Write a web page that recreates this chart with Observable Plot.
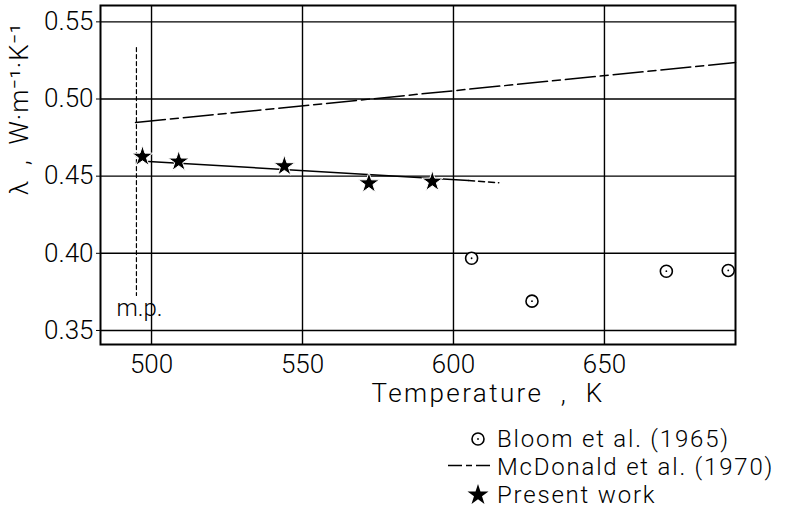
<!DOCTYPE html>
<html><head><meta charset="utf-8">
<script src="https://cdn.jsdelivr.net/npm/d3@7"></script>
<script src="https://cdn.jsdelivr.net/npm/@observablehq/plot@0.6"></script>
<style>
body{margin:0;background:#fff;font-family:Roboto,"DejaVu Sans",sans-serif;}
#legend{font-size:24px;font-weight:300;color:#000;padding-top:10px;letter-spacing:1.8px;}
.row{display:flex;align-items:center;height:28px;line-height:28px;margin-left:440px;}
.row span{line-height:28px;display:block;height:28px;}
.row svg{width:57px;height:28px;flex:none;overflow:visible}
</style></head><body>
<div id="chart"></div>
<div id="legend"></div>
<script>
// Present work (stars)
const presentT = [497, 509, 544, 572, 593];
const presentL = [0.4627, 0.4595, 0.4565, 0.4454, 0.4465];
// Present work fit line (solid part, dashed extension)
const fitT = [499, 605];
const fitL = [0.4595, 0.4472];
const fitExtT = [605, 615];
const fitExtL = [0.4472, 0.4457];
// Bloom et al. (1965)
const bloomT = [606, 626, 670.5, 691];
const bloomL = [0.3968, 0.369, 0.3884, 0.3889];
// McDonald et al. (1970)
const mcdT = [494.7, 693.4];
const mcdL = [0.4848, 0.5236];
// melting point marker
const mpT = [495, 495];
const mpL = [0.5333, 0.3727];
const mpLabelT = [496];
const mpLabelL = [0.3643];
const mpLabelText = ["m.p."];
// ticks
const xTicks = [500, 550, 600, 650];
const yTicks = [0.35, 0.40, 0.45, 0.50, 0.55];
const xLabel = "Temperature\u00a0\u00a0,\u00a0\u00a0K";
const yLabel = "λ\u00a0\u00a0,\u00a0\u00a0W·m⁻¹·K⁻¹";
const legendLabels = ["Bloom et al. (1965)", "McDonald et al. (1970)", "Present work"];

const font = "Roboto, 'DejaVu Sans', sans-serif";
const stars = presentT.map((t, i) => ({t, l: presentL[i]}));
const bloom = bloomT.map((t, i) => ({t, l: bloomL[i]}));
const fit = fitT.map((t, i) => ({t, l: fitL[i]}));
const fitExt = fitExtT.map((t, i) => ({t, l: fitExtL[i]}));
const mcd = mcdT.map((t, i) => ({t, l: mcdL[i]}));
const mp = mpT.map((t, i) => ({t, l: mpL[i]}));
const mpLab = mpLabelT.map((t, i) => ({t, l: mpLabelL[i], s: mpLabelText[i]}));

const chart = Plot.plot({
  width: 793, height: 415,
  marginLeft: 100, marginRight: 58, marginTop: 5, marginBottom: 71,
  style: {fontFamily: font, fontSize: "26px", fontWeight: 300, background: "#fff", color: "#000", overflow: "visible"},
  x: {domain: [483.1, 693.4]},
  y: {domain: [0.3409, 0.5606]},
  marks: [
    Plot.gridX(xTicks, {stroke: "#000", strokeOpacity: 1, strokeWidth: 1.4}),
    Plot.gridY(yTicks, {stroke: "#000", strokeOpacity: 1, strokeWidth: 1.4}),
    Plot.axisX(xTicks, {tickSize: 0, tickPadding: 10, label: null, fontSize: 26, tickFormat: d => String(d)}),
    Plot.axisY(yTicks, {tickSize: 4, tickPadding: 3, label: null, fontSize: 26, tickFormat: d3.format(".2f")}),
    Plot.frame({stroke: "#000", strokeWidth: 2}),
    Plot.line(mp, {x: "t", y: "l", stroke: "#000", strokeWidth: 1.2, strokeDasharray: "4,3"}),
    Plot.text(mpLab, {x: "t", y: "l", text: "s", fontSize: 24, fill: "#000"}),
    Plot.line(mcd, {x: "t", y: "l", stroke: "#000", strokeWidth: 1.5, strokeDasharray: "30,5,8,5"}),
    Plot.line(fit, {x: "t", y: "l", stroke: "#000", strokeWidth: 1.5}),
    Plot.line(fitExt, {x: "t", y: "l", stroke: "#000", strokeWidth: 1.5, strokeDasharray: "6,4"}),
    Plot.dot(bloom, {x: "t", y: "l", r: 6, stroke: "#000", strokeWidth: 1.6, fill: "#fff"}),
    Plot.dot(bloom, {x: "t", y: "l", r: 0.9, fill: "#000"}),
    Plot.dot(stars, {x: "t", y: "l", symbol: "star", r: 6.6, fill: "#000", stroke: "#fff", strokeWidth: 1}),
    Plot.text([xLabel], {frameAnchor: "bottom", lineAnchor: "middle", textAnchor: "middle", dx: 70, dy: 49, fontSize: 26, fill: "#000"}),
    Plot.text([yLabel], {frameAnchor: "left", lineAnchor: "middle", textAnchor: "middle", rotate: -90, dx: -81, dy: -66, fontSize: 26, fill: "#000"})
  ]
});
document.getElementById("chart").appendChild(chart);
// letter spacing for the axis titles
d3.select(chart).selectAll("text").each(function() {
  const t = this.textContent;
  if (t === xLabel) this.style.letterSpacing = "2.4px";
  if (t === yLabel) this.style.letterSpacing = "1px";
});

// legend
const legend = d3.select("#legend");
const starPath = d3.symbol(d3.symbolStar, Math.PI * 6.6 * 6.6)();
const symbols = [
  g => { g.append("circle").attr("cx", 38).attr("cy", 14).attr("r", 6).attr("fill", "none").attr("stroke", "#000").attr("stroke-width", 1.6);
         g.append("circle").attr("cx", 38).attr("cy", 14).attr("r", 0.9).attr("fill", "#000"); },
  g => { g.append("line").attr("x1", 8).attr("x2", 55).attr("y1", 12.5).attr("y2", 12.5).attr("stroke", "#000").attr("stroke-width", 1.5).attr("stroke-dasharray", "14,4,6,4,14"); },
  g => { g.append("path").attr("d", starPath).attr("transform", "translate(38,14)").attr("fill", "#000"); }
];
legendLabels.forEach((lab, i) => {
  const row = legend.append("div").attr("class", "row");
  const s = row.append("svg");
  symbols[i](s);
  row.append("span").text(lab);
});
</script>
</body></html>
